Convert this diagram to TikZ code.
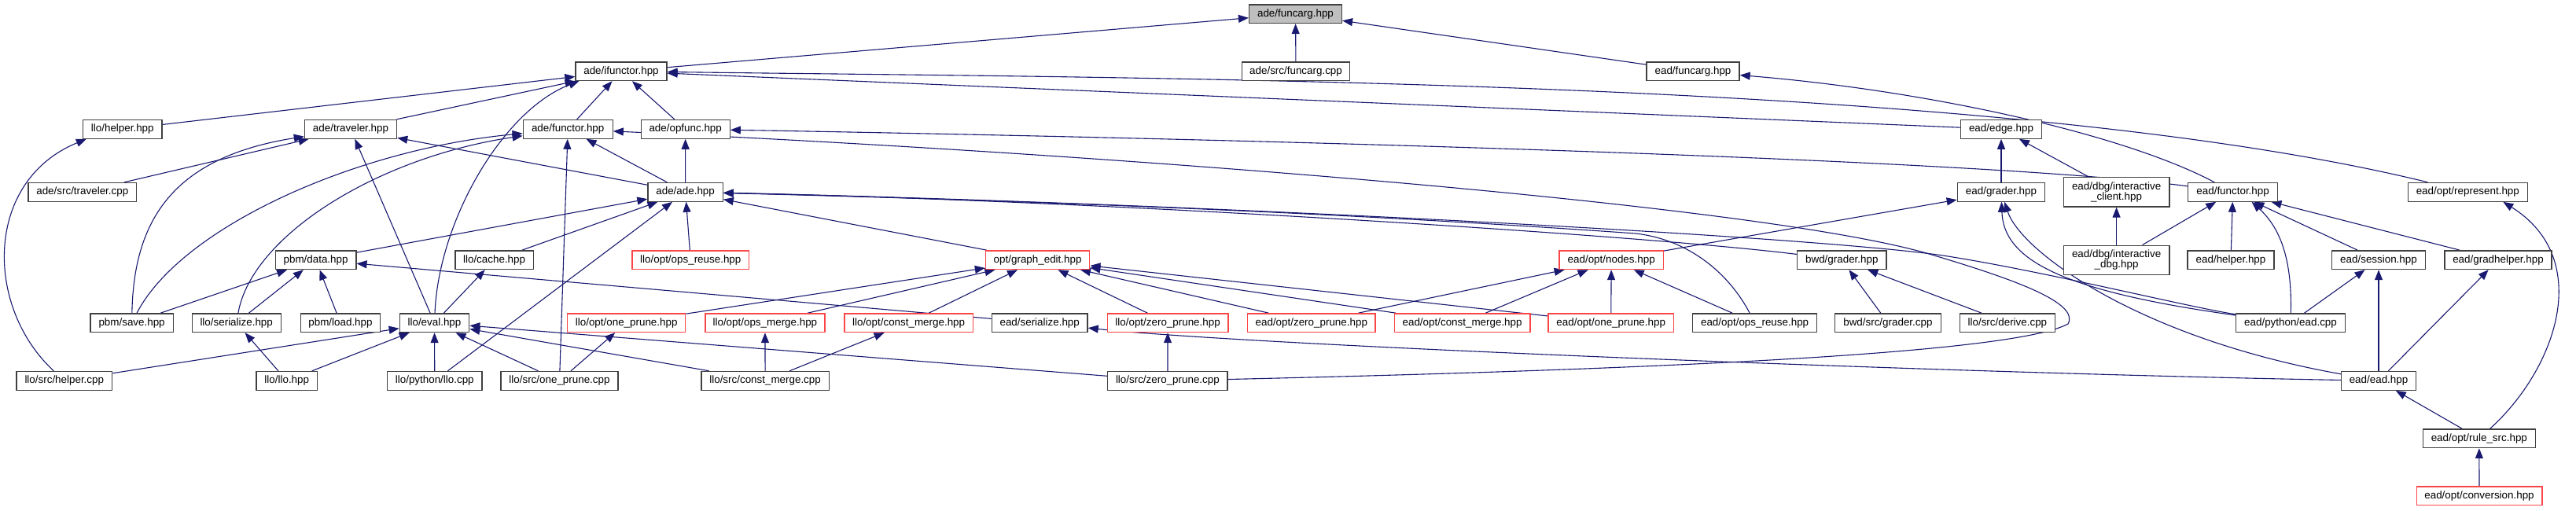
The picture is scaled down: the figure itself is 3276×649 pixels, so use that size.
\documentclass[tikz,border=0pt]{standalone}
\usepackage{fontspec}
\newfontfamily\dxfont{Liberation Sans}
\usetikzlibrary{arrows.meta}
\definecolor{edgecol}{RGB}{25,25,112}
\definecolor{boxcol}{RGB}{64,64,64}
\definecolor{redcol}{RGB}{250,70,70}
\definecolor{graycol}{RGB}{191,191,191}
\pgfdeclarelayer{bg}
\pgfsetlayers{bg,main}
\tikzset{
  box/.style={draw=boxcol, line width=1.3pt, fill=white, inner sep=0pt, minimum height=23.7pt,
    font=\dxfont\fontsize{13.4}{13}\selectfont, align=center},
  redbox/.style={box, draw=redcol},
  twoline/.style={minimum height=37.3pt},
  dep/.style={draw=edgecol, line width=1.1pt, -{Triangle[length=13pt,width=10pt]}},
}
\begin{document}
\begin{tikzpicture}[x=1pt,y=-1pt]
\useasboundingbox (0,0) rectangle (3276,649);
% row 0
\node[box, fill=graycol, minimum width=117.8] (funcarg) at (1647.5,17.7) {ade/funcarg.hpp};
% row 1
\node[box, minimum width=116] (ifunctor) at (790,90.7) {ade/ifunctor.hpp};
\node[box, minimum width=137.5] (srcfuncarg) at (1648,90.7) {ade/src/funcarg.cpp};
\node[box, minimum width=118] (eadfuncarg) at (2153,90.7) {ead/funcarg.hpp};
% row 2
\node[box, minimum width=100.4] (llohelper) at (155.8,164.3) {llo/helper.hpp};
\node[box, minimum width=117.2] (traveler) at (446,164.3) {ade/traveler.hpp};
\node[box, minimum width=114] (functor) at (722.2,164.3) {ade/functor.hpp};
\node[box, minimum width=112.9] (opfunc) at (871.7,164.3) {ade/opfunc.hpp};
\node[box, minimum width=103.2] (edge) at (2545,164.3) {ead/edge.hpp};
% row 3
\node[box, minimum width=137.5] (srctraveler) at (104.8,244.3) {ade/src/traveler.cpp};
\node[box, minimum width=95.2] (ade) at (871.6,244.3) {ade/ade.hpp};
\node[box, minimum width=111.4] (grader) at (2545,244.3) {ead/grader.hpp};
\node[box, twoline, minimum width=134.6] (iclient) at (2691.6,244.3) {ead/dbg/interactive\\\_client.hpp};
\node[box, minimum width=113.6] (eadfunctor) at (2839.6,244.3) {ead/functor.hpp};
\node[box, minimum width=151.8] (represent) at (3138.3,244.3) {ead/opt/represent.hpp};
% row 4
\node[box, minimum width=102.5] (pbmdata) at (401.6,330.7) {pbm/data.hpp};
\node[box, minimum width=99.4] (cache) at (628.6,330.7) {llo/cache.hpp};
\node[redbox, minimum width=148.9] (lloopsreuse) at (878.3,330.7) {llo/opt/ops\_reuse.hpp};
\node[redbox, minimum width=132.3] (graphedit) at (1319.6,330.7) {opt/graph\_edit.hpp};
\node[redbox, minimum width=132.5] (nodes) at (2049.2,330.7) {ead/opt/nodes.hpp};
\node[box, minimum width=113.2] (bwdgrader) at (2342.3,330.7) {bwd/grader.hpp};
\node[box, twoline, minimum width=134.6] (idbg) at (2691.6,330.8) {ead/dbg/interactive\\\_dbg.hpp};
\node[box, minimum width=110] (eadhelper) at (2837,330.7) {ead/helper.hpp};
\node[box, minimum width=118.6] (session) at (3025,330.7) {ead/session.hpp};
\node[box, minimum width=136] (gradhelper) at (3177,330.7) {ead/gradhelper.hpp};
% row 5
\node[box, minimum width=105.2] (save) at (167.6,410.7) {pbm/save.hpp};
\node[box, minimum width=113] (serialize) at (300.7,410.7) {llo/serialize.hpp};
\node[box, minimum width=101.5] (load) at (433,410.7) {pbm/load.hpp};
\node[box, minimum width=88.4] (eval) at (552.5,410.7) {llo/eval.hpp};
\node[redbox, minimum width=149.9] (lloonepr) at (796.7,410.7) {llo/opt/one\_prune.hpp};
\node[redbox, minimum width=152.1] (opsmerge) at (972.9,410.7) {llo/opt/ops\_merge.hpp};
\node[redbox, minimum width=163.2] (constmerge) at (1155.6,410.7) {llo/opt/const\_merge.hpp};
\node[box, minimum width=121.8] (eadserialize) at (1322.2,410.7) {ead/serialize.hpp};
\node[redbox, minimum width=153.8] (llozeropr) at (1485.1,410.7) {llo/opt/zero\_prune.hpp};
\node[redbox, minimum width=162.3] (eadzeropr) at (1667.8,410.7) {ead/opt/zero\_prune.hpp};
\node[redbox, minimum width=172.9] (eadconstmerge) at (1859.6,410.7) {ead/opt/const\_merge.hpp};
\node[redbox, minimum width=159.7] (eadonepr) at (2048.7,410.7) {ead/opt/one\_prune.hpp};
\node[box, minimum width=158.2] (eadopsreuse) at (2231.6,410.7) {ead/opt/ops\_reuse.hpp};
\node[box, minimum width=134.6] (bwdsrcgrader) at (2400.9,410.7) {bwd/src/grader.cpp};
\node[box, minimum width=121.5] (derive) at (2552.9,410.7) {llo/src/derive.cpp};
\node[box, minimum width=138.9] (pyead) at (2913,410.7) {ead/python/ead.cpp};
% row 6
\node[box, minimum width=121.9] (srchelper) at (81.8,484.3) {llo/src/helper.cpp};
\node[box, minimum width=77.9] (llollo) at (364.8,484.3) {llo/llo.hpp};
\node[box, minimum width=120.3] (pyllo) at (552.8,484.3) {llo/python/llo.cpp};
\node[box, minimum width=149] (srconepr) at (711.5,484.3) {llo/src/one\_prune.cpp};
\node[box, minimum width=162.2] (srcconstmerge) at (973.1,484.3) {llo/src/const\_merge.cpp};
\node[box, minimum width=152.2] (srczeropr) at (1484.9,484.3) {llo/src/zero\_prune.cpp};
\node[box, minimum width=95] (ead) at (3025,484.3) {ead/ead.hpp};
% row 7, 8
\node[box, minimum width=142.8] (rulesrc) at (3152.8,557.7) {ead/opt/rule\_src.hpp};
\node[redbox, minimum width=159.7] (conversion) at (3153,630.7) {ead/opt/conversion.hpp};

\begin{pgfonlayer}{bg}
% to ade/funcarg
\draw[dep] (ifunctor) -- (funcarg);
\draw[dep] (srcfuncarg) -- (funcarg);
\draw[dep] (eadfuncarg) -- (funcarg);
% to ade/ifunctor
\draw[dep] (llohelper) -- (ifunctor);
\draw[dep] (traveler) -- (ifunctor);
\draw[dep] (functor) -- (ifunctor);
\draw[dep] (opfunc) -- (ifunctor);
\draw[dep] (eval) .. controls (558,280) and (640,140) .. ([xshift=5pt]ifunctor.south west);
\draw[dep] (edge) -- (ifunctor);
\draw[dep] (represent) .. controls (2550,100) and (1500,100) .. (ifunctor);
% to ade/opfunc
\draw[dep] (ade) -- (opfunc);
\draw[dep] (eadfunctor) .. controls (2500,200) and (1500,175) .. (opfunc);
% to ead/funcarg
\draw[dep] (eadfunctor) .. controls (2700,170) and (2450,115) .. (eadfuncarg);
% to ade/functor
\draw[dep] (save) .. controls (230,290) and (450,190) .. (functor);
\draw[dep] (serialize) .. controls (320,300) and (480,200) .. (functor);
\draw[dep] (srconepr) -- (functor);
\draw[dep] (ade) -- (functor);
\draw[dep] (srczeropr) .. controls (2100,470) and (2560,450) .. (2630,412)
   .. controls (2645,385) and (2560,355) .. (2460,325)
   .. controls (2250,260) and (1400,195) .. (functor);
% to ade/traveler
\draw[dep] (srctraveler) -- (traveler);
\draw[dep] (save) .. controls (170,280) and (220,200) .. (traveler);
\draw[dep] (eval) -- (traveler);
\draw[dep] (ade) -- (traveler);
% to llo/helper
\draw[dep] (srchelper) .. controls (-20,390) and (-20,230) .. ([xshift=5pt]llohelper.south west);
% to ade/ade
\draw[dep] (pbmdata) -- (ade);
\draw[dep] (cache) -- (ade);
\draw[dep] (pyllo) -- (ade);
\draw[dep] (lloopsreuse) -- (ade);
\draw[dep] (graphedit) -- (ade);
\draw[dep] (bwdgrader) .. controls (2100,300) and (1400,255) .. (ade);
\draw[dep] (eadopsreuse) .. controls (2200,350) and (2150,305) .. (2080,297)
   .. controls (1700,270) and (1300,255) .. (ade);
\draw[dep] (pyead) .. controls (2780,390) and (2600,345) .. (2471,325)
   .. controls (2300,300) and (1500,258) .. (ade);
% to pbm/data
\draw[dep] (save) -- (pbmdata);
\draw[dep] (serialize) -- (pbmdata);
\draw[dep] (load) -- (pbmdata);
\draw[dep] (eadserialize) -- (pbmdata);
% to llo/cache
\draw[dep] (eval) -- (cache);
% to opt/graph_edit
\draw[dep] (lloonepr) -- (graphedit);
\draw[dep] (opsmerge) -- (graphedit);
\draw[dep] (constmerge) -- (graphedit);
\draw[dep] (llozeropr) -- (graphedit);
\draw[dep] (eadzeropr) -- (graphedit);
\draw[dep] (eadconstmerge) -- (graphedit);
\draw[dep] (eadonepr) -- (graphedit);
% to ead/opt/nodes
\draw[dep] (eadzeropr) -- (nodes);
\draw[dep] (eadconstmerge) -- (nodes);
\draw[dep] (eadonepr) -- (nodes);
\draw[dep] (eadopsreuse) -- (nodes);
% to bwd/grader
\draw[dep] (bwdsrcgrader) -- (bwdgrader);
\draw[dep] (derive) -- (bwdgrader);
% ead side
\draw[dep] (grader) -- (edge);
\draw[dep] (iclient) -- (edge);
\draw[dep] (idbg) -- (iclient);
\draw[dep] (nodes) -- (grader);
\draw[dep] (pyead) .. controls (2620,370) and (2548,330) .. (grader);
\draw[dep] (ead) .. controls (2720,430) and (2570,320) .. (grader);
\draw[dep] (idbg) -- (eadfunctor);
\draw[dep] (eadhelper) -- (eadfunctor);
\draw[dep] (pyead) .. controls (2915,330) and (2900,290) .. ([xshift=24pt]eadfunctor.south);
\draw[dep] (session) -- (eadfunctor);
\draw[dep] (gradhelper) -- (eadfunctor);
\draw[dep] (rulesrc) .. controls (3250,470) and (3300,330) .. ([xshift=45pt]represent.south);
\draw[dep] (pyead) -- (session);
\draw[dep] (ead) -- (session);
\draw[dep] (ead) -- (gradhelper);
\draw[dep] (ead) .. controls (2500,475) and (1600,440) .. (eadserialize);
\draw[dep] (rulesrc) -- (ead);
\draw[dep] (conversion) -- (rulesrc);
% to llo/eval
\draw[dep] (srchelper) -- (eval);
\draw[dep] (llollo) -- (eval);
\draw[dep] (pyllo) -- (eval);
\draw[dep] (srconepr) -- (eval);
\draw[dep] (srcconstmerge) -- (eval);
\draw[dep] (srczeropr) -- (eval);
% others
\draw[dep] (llollo) -- (serialize);
\draw[dep] (srconepr) -- (lloonepr);
\draw[dep] (srcconstmerge) -- (opsmerge);
\draw[dep] (srcconstmerge) -- (constmerge);
\draw[dep] (srczeropr) -- (llozeropr);
\end{pgfonlayer}
\end{tikzpicture}
\end{document}
